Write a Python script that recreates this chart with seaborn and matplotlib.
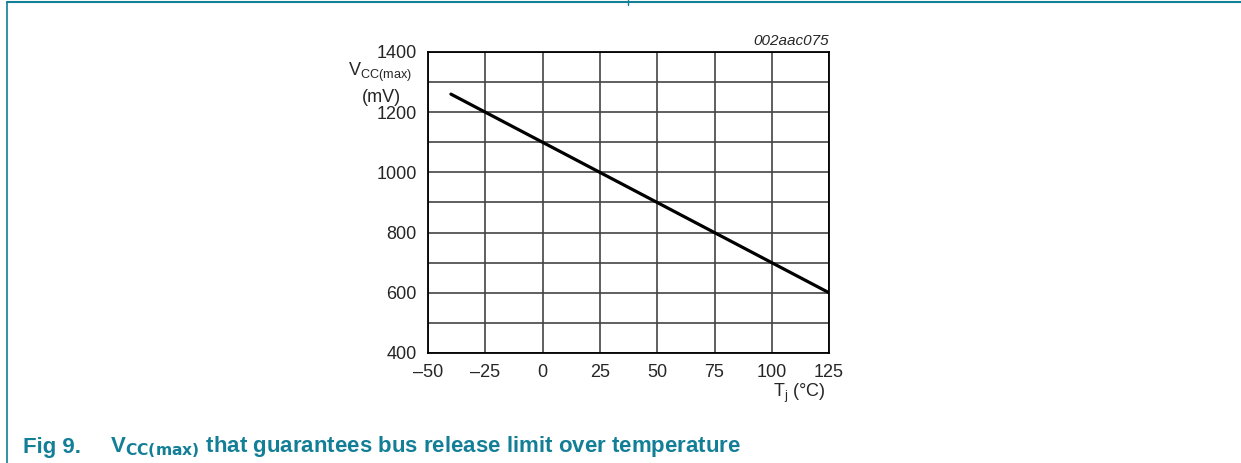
import numpy as np
import pandas as pd
import matplotlib
matplotlib.use('Agg')
import matplotlib.pyplot as plt
import seaborn as sns

# data
temp_c = [-40, 125]
vcc_max_mv = [1260, 600]
x_ticks = [-50, -25, 0, 25, 50, 75, 100, 125]
y_ticks = [400, 600, 800, 1000, 1200, 1400]

teal = '#137f97'

sns.set_style('white')
plt.rcParams['font.family'] = ['Liberation Sans', 'DejaVu Sans']

fig = plt.figure(figsize=(12.41, 4.63), dpi=100)
ax = fig.add_axes([0.3449, 0.2376, 0.3232, 0.6501])

df = pd.DataFrame({'T': temp_c, 'V': vcc_max_mv})
sns.lineplot(data=df, x='T', y='V', ax=ax, color='black', linewidth=2.3)

ax.set_xlim(-50, 125)
ax.set_ylim(400, 1400)
ax.set_xticks(x_ticks)
ax.set_xticklabels([str(t).replace('-', '\u2013') for t in x_ticks])
ax.set_yticks(y_ticks)
ax.set_yticks(np.arange(400, 1401, 100), minor=True)
ax.tick_params(axis='both', which='both', length=0, labelsize=13, pad=8)
ax.grid(True, which='major', color='#444444', linewidth=1.2)
ax.grid(True, which='minor', axis='y', color='#444444', linewidth=1.2)
for s in ax.spines.values():
    s.set_visible(True)
    s.set_color('black')
    s.set_linewidth(1.3)
ax.set_xlabel('')
ax.set_ylabel('')

# axis titles placed like the datasheet
fig.text(0.306, 0.843, r'V$_{\mathregular{CC(max)}}$', ha='center', va='center', fontsize=13)
fig.text(0.307, 0.790, '(mV)', ha='center', va='center', fontsize=13)
fig.text(0.665, 0.150, r'T$_{\mathregular{j}}$ (°C)', ha='right', va='center', fontsize=13)
fig.text(0.668, 0.896, '002aac075', ha='right', va='bottom', fontsize=11, style='italic')

# page frame bits
fig.add_artist(plt.Line2D([7 / 1241, 1], [1 - 2 / 463, 1 - 2 / 463], color=teal, linewidth=1.5))
fig.add_artist(plt.Line2D([7 / 1241, 7 / 1241], [1 - 2 / 463, 0], color=teal, linewidth=1.2))
fig.add_artist(plt.Line2D([628 / 1241, 628 / 1241], [1, 1 - 5 / 463], color=teal, linewidth=1.0))

# caption
fig.text(23 / 1241, 0.022, 'Fig 9.', color=teal, fontsize=16, fontweight='bold', va='baseline')
fig.text(110 / 1241, 0.022, r'V$_{\mathbf{CC(max)}}$ that guarantees bus release limit over temperature',
         color=teal, fontsize=16, fontweight='bold', va='baseline')

fig.savefig('out.png', dpi=100)
